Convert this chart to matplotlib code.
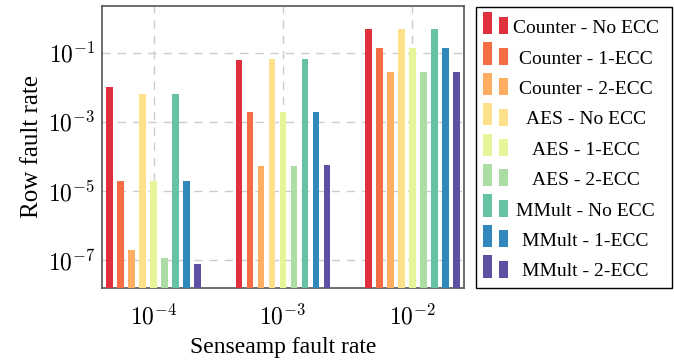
import matplotlib
matplotlib.use("Agg")
import matplotlib.pyplot as plt
from matplotlib.patches import Rectangle
import numpy as np

plt.rcParams['font.family'] = ['Liberation Serif', 'DejaVu Serif']
plt.rcParams['mathtext.fontset'] = 'cm'

groups = [r'$10^{-4}$', r'$10^{-3}$', r'$10^{-2}$']
series = ['Counter - No ECC', 'Counter - 1-ECC', 'Counter - 2-ECC',
          'AES - No ECC', 'AES - 1-ECC', 'AES - 2-ECC',
          'MMult - No ECC', 'MMult - 1-ECC', 'MMult - 2-ECC']
counter_no = [1.0e-2, 6.0e-2, 0.48]
counter_1 = [2.0e-5, 1.9e-3, 0.134]
counter_2 = [2.0e-7, 5.4e-5, 0.027]
aes_no = [6.5e-3, 6.3e-2, 0.48]
aes_1 = [1.9e-5, 1.9e-3, 0.134]
aes_2 = [1.2e-7, 5.2e-5, 0.027]
mmult_no = [6.5e-3, 6.3e-2, 0.48]
mmult_1 = [1.9e-5, 1.9e-3, 0.134]
mmult_2 = [7.8e-8, 5.5e-5, 0.027]
values = [counter_no, counter_1, counter_2, aes_no, aes_1, aes_2,
          mmult_no, mmult_1, mmult_2]
colors = ['#e0303d', '#f46d43', '#fdae61', '#fee08b', '#e6f598',
          '#abdda4', '#66c2a5', '#3288bd', '#5e4fa2']

fig = plt.figure(figsize=(6.74, 3.64), dpi=100)
ax = fig.add_axes([102/674, (364-288)/364, (464-102)/674, (288-6)/364])

x = np.arange(len(groups))
step = 0.085
width = 0.052
for i, (vals, c) in enumerate(zip(values, colors)):
    ax.bar(x + (i - 4) * step, vals, width=width, color=c, bottom=1e-9,
           zorder=3, linewidth=0)

ax.set_yscale('log')
ax.set_ylim(1.6e-8, 2.2)
ax.set_xlim(-0.4, 2.4)
ax.set_yticks([1e-7, 1e-5, 1e-3, 1e-1])
ax.set_yticklabels([r'$10^{-7}$', r'$10^{-5}$', r'$10^{-3}$', r'$10^{-1}$'])
ax.yaxis.set_minor_locator(matplotlib.ticker.NullLocator())
ax.set_xticks(x)
ax.set_xticklabels(groups)
ax.tick_params(axis='both', length=0, labelsize=17)
ax.tick_params(axis='x', pad=12)
ax.tick_params(axis='y', pad=5)
ax.grid(True, which='major', color='#cccccc', linestyle=(0, (6, 5)),
        linewidth=1.0, zorder=0)
for s in ax.spines.values():
    s.set_color('#555555')
    s.set_linewidth(1.2)
ax.set_ylabel('Row fault rate', fontsize=18, labelpad=3)
ax.set_xlabel('Senseamp fault rate', fontsize=17, labelpad=5)

# legend drawn in pixel coordinates
lax = fig.add_axes([0, 0, 1, 1])
lax.set_xlim(0, 674)
lax.set_ylim(364, 0)
lax.axis('off')
lax.add_patch(Rectangle((475.7, 6.7), 196, 281, fill=False,
                        edgecolor='black', linewidth=1.0))
for i, (name, c) in enumerate(zip(series, colors)):
    yc = 23.3 + 30.4 * i
    lax.add_patch(Rectangle((483.3, yc - 11.3), 9, 22.3, color=c, linewidth=0))
    lax.add_patch(Rectangle((499.3, yc - 6), 9, 17, color=c, linewidth=0))
    lax.text(585.7, yc + 10, name, ha='center', va='baseline', fontsize=14)

fig.savefig('out.png', dpi=100)
